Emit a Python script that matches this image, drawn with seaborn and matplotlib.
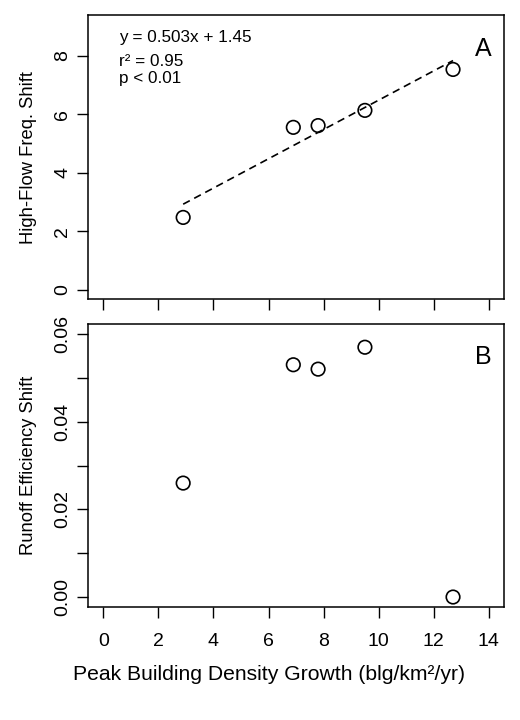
import matplotlib
matplotlib.use("Agg")
import matplotlib.pyplot as plt
import seaborn as sns
import pandas as pd

# values
growth = [2.9, 6.9, 7.8, 9.5, 12.7]
highflow_shift = [2.47, 5.55, 5.61, 6.13, 7.53]
runoff_shift = [0.026, 0.053, 0.052, 0.057, 0.000]

xticks = [0, 2, 4, 6, 8, 10, 12, 14]
yticks_a = [0, 2, 4, 6, 8]
yticks_b = [0.00, 0.02, 0.04, 0.06]
yticks_b_minor = [0.01, 0.03, 0.05]
fit_text = ["y = 0.503x + 1.45", "r\u00b2 = 0.95", "p < 0.01"]

df = pd.DataFrame({"growth": growth, "hf": highflow_shift, "ro": runoff_shift})

sns.set_style("ticks")
plt.rcParams["font.family"] = ["Liberation Sans", "DejaVu Sans"]
plt.rcParams["axes.linewidth"] = 1.1

fig = plt.figure(figsize=(5.2, 7.2), dpi=100)
ax1 = fig.add_axes([0.1692, 0.5843, 0.8, 0.3944])
ax2 = fig.add_axes([0.1692, 0.1574, 0.8, 0.3926])

for ax, col in [(ax1, "hf"), (ax2, "ro")]:
    sns.scatterplot(data=df, x="growth", y=col, ax=ax, s=95,
                    facecolor="none", edgecolor="black", linewidth=1.2)

sns.regplot(data=df, x="growth", y="hf", ax=ax1, scatter=False, ci=None,
            color="black", line_kws=dict(lw=1.2, ls=(0, (4.5, 3))))

for ax in (ax1, ax2):
    ax.set_xlim(-0.556, 14.55)
    ax.set_xticks(xticks)
    ax.tick_params(axis="both", which="both", direction="out", length=8.2,
                   width=1.0, color="black", labelsize=14, labelcolor="black")
    ax.tick_params(axis="x", pad=11)
    ax.tick_params(axis="y", pad=4, labelrotation=90)
    for s in ax.spines.values():
        s.set_color("black")

ax1.set_ylim(-0.33, 9.38)
ax1.set_yticks(yticks_a)
ax1.tick_params(labelbottom=False)
for lab in ax1.get_yticklabels():
    lab.set_va("center")

ax2.set_ylim(-0.0022, 0.0623)
ax2.set_yticks(yticks_b)
ax2.set_yticks(yticks_b_minor, minor=True)
ax2.set_yticklabels(["%.2f" % v for v in yticks_b], va="center")
ax2.set_xticklabels([str(v) for v in xticks])

ax1.set_xlabel("")
ax1.set_ylabel("High-Flow Freq. Shift", fontsize=13.2, color="black")
ax2.set_ylabel("Runoff Efficiency Shift", fontsize=13.2, color="black")
ax2.set_xlabel("Peak Building Density Growth (blg/km\u00b2/yr)", fontsize=15.2, color="black")
for ax in (ax1, ax2):
    ax.yaxis.set_label_coords(-0.142, 0.5)
    ax.yaxis.label.set_va("center")
ax2.xaxis.set_label_coords(0.435, -0.2416)
ax2.xaxis.label.set_va("center")

# fit annotation
for txt, yb in zip(fit_text, [0.907, 0.8225, 0.7627]):
    ax1.text(0.0752, yb, txt, transform=ax1.transAxes, fontsize=12.3,
             ha="left", va="baseline", color="black")

ax1.text(0.9495, 0.881, "A", transform=ax1.transAxes, fontsize=18,
         ha="center", va="center", color="black")
ax2.text(0.9495, 0.884, "B", transform=ax2.transAxes, fontsize=18,
         ha="center", va="center", color="black")

plt.savefig("out.png", dpi=100)
